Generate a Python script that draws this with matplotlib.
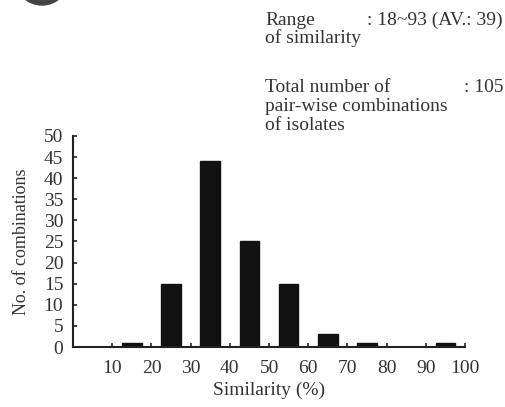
import numpy as np
import matplotlib
matplotlib.use('Agg')
import matplotlib.pyplot as plt
from matplotlib.patches import Ellipse

# histogram of pair-wise similarity (bin centres, counts)
bin_centres = [15, 25, 35, 45, 55, 65, 75, 85, 95]
counts = [1, 15, 44, 25, 15, 3, 1, 0, 1]
x_ticks = [10, 20, 30, 40, 50, 60, 70, 80, 90, 100]
y_ticks = [0, 5, 10, 15, 20, 25, 30, 35, 40, 45, 50]

plt.rcParams['font.family'] = ['Liberation Serif', 'DejaVu Serif']
txt = '#333333'
fs = 14

fig = plt.figure(figsize=(5.05, 4.07), dpi=100)
ax = fig.add_axes([0.1446, 0.1474, 0.7764, 0.5186])

ax.bar(bin_centres, counts, width=5, color='#111111', edgecolor='#111111')

ax.set_xlim(0, 100)
ax.set_ylim(0, 50)
ax.set_xticks(x_ticks)
ax.set_yticks(y_ticks)
ax.tick_params(axis='both', direction='in', length=3, width=1.2, colors='#222222',
               labelcolor=txt, labelsize=fs)
ax.tick_params(axis='x', pad=9)
ax.tick_params(axis='y', pad=7)
for s in ['top', 'right']:
    ax.spines[s].set_visible(False)
for s in ['left', 'bottom']:
    ax.spines[s].set_linewidth(1.5)
    ax.spines[s].set_color('#222222')

ax.set_xlabel('Similarity (%)', fontsize=fs, color=txt, labelpad=4)
ax.set_ylabel('No. of combinations', fontsize=13, color=txt, labelpad=10)

# summary text at top right (baselines)
def put(x, y, s, ha='left'):
    fig.text(x / 505, 1 - y / 407, s, fontsize=fs, color=txt, ha=ha, va='baseline')

put(265, 25, 'Range')
put(503, 25, ': 18~93 (AV.: 39)', ha='right')
put(265, 43, 'of similarity')
put(265, 92, 'Total number of')
put(503, 92, ': 105', ha='right')
put(265, 111, 'pair-wise combinations')
put(265, 130, 'of isolates')

# cut-off panel marker at the top left edge
fig.patches.append(Ellipse((42 / 505, 1 + 22 / 407), 54 / 505, 54 / 407,
                           transform=fig.transFigure, color='#444444'))

fig.savefig('out.png', dpi=100)
